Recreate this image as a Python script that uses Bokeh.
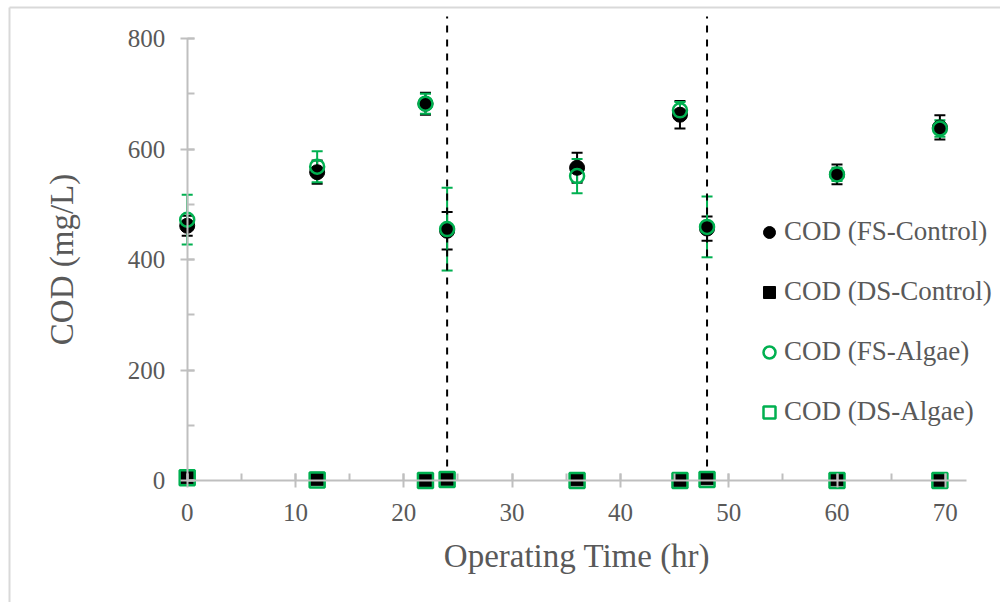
from bokeh.plotting import figure
from bokeh.models import (Range1d, SingleIntervalTicker, ColumnDataSource, Whisker,
                          TeeHead)
from bokeh.embed import file_html
from bokeh.resources import INLINE

# ---- data ----
time_hr = [0, 12, 22, 24, 36, 45.5, 48, 60, 69.5]
cod_fs_control = [461, 558, 682, 452, 566, 662, 456, 554, 639]
err_fs_control = [18, 21, 20, 34, 27, 25, 22, 18, 22]
cod_fs_algae = [472, 568, 682, 455, 551, 670, 459, 554, 637]
err_fs_algae = [45, 28, 18, 75, 31, 15, 55, 12, 15]
cod_ds_control = [6, 3, 1, 3, 2, 1, 4, 2, 1]
cod_ds_algae = [5, 1, 0, 2, 0, 0, 2, 0, 0]
divider_times = [24, 48]
divider_top = 840
y_ticks_max = 800
x_axis_max = 72

GREEN = "#00B050"
GREY_TXT = "#595959"
AXIS_C = "#BFBFBF"
FONT = "Liberation Serif"

W, H = 1000, 602
# pixel mapping of the plot area
x0_px, px_per_x = 186.7, 10.83
y0_px, px_per_y = 480.0, 442.0 / 800.0

def px_to_x(px):
    return (px - x0_px) / px_per_x

def px_to_y(py):
    return (y0_px - py) / px_per_y

p = figure(width=W, height=H, output_backend="svg", toolbar_location=None,
           x_range=Range1d(px_to_x(0), px_to_x(W)),
           y_range=Range1d(px_to_y(H), px_to_y(0)),
           min_border=0, min_border_left=0, min_border_right=0,
           min_border_top=0, min_border_bottom=0)
p.outline_line_color = None
p.xgrid.visible = False
p.ygrid.visible = False
p.background_fill_color = "white"
p.border_fill_color = "white"

# chart-area border (light grey, only top/left visible in the window)
bx0, by0 = px_to_x(9), px_to_y(7)
p.segment(x0=[bx0, bx0], y0=[by0, by0], x1=[px_to_x(W + 5), bx0],
          y1=[by0, px_to_y(H + 5)], line_color="#D9D9D9", line_width=2)

# axes
for ax in (p.xaxis[0], p.yaxis[0]):
    ax.fixed_location = 0
    ax.axis_line_color = AXIS_C
    ax.axis_line_width = 2
    ax.major_tick_line_color = AXIS_C
    ax.minor_tick_line_color = AXIS_C
    ax.major_tick_line_width = 2
    ax.minor_tick_line_width = 2
    ax.major_label_text_font = FONT
    ax.major_label_text_font_size = "25px"
    ax.major_label_text_color = GREY_TXT
    ax.axis_label_text_font = FONT
    ax.axis_label_text_font_size = "33px"
    ax.axis_label_text_color = GREY_TXT
    ax.axis_label_text_font_style = "normal"
    ax.major_tick_in = 7
    ax.major_tick_out = 7
    ax.minor_tick_in = 7
    ax.minor_tick_out = 0

p.xaxis.bounds = (0, x_axis_max)
p.yaxis.bounds = (0, y_ticks_max)
p.xaxis.ticker = SingleIntervalTicker(interval=10, num_minor_ticks=2)
p.yaxis.ticker = SingleIntervalTicker(interval=200, num_minor_ticks=2)
p.xaxis.axis_label = "Operating Time (hr)"
p.yaxis.axis_label = "COD (mg/L)"
p.xaxis.major_label_standoff = 16
p.yaxis.major_label_standoff = 15
p.xaxis.axis_label_standoff = 14
p.yaxis.axis_label_standoff = 45

src = ColumnDataSource(dict(
    t=time_hr,
    fsc=cod_fs_control, fsc_lo=[v - e for v, e in zip(cod_fs_control, err_fs_control)],
    fsc_hi=[v + e for v, e in zip(cod_fs_control, err_fs_control)],
    fsa=cod_fs_algae, fsa_lo=[v - e for v, e in zip(cod_fs_algae, err_fs_algae)],
    fsa_hi=[v + e for v, e in zip(cod_fs_algae, err_fs_algae)],
    dsc=cod_ds_control, dsa=cod_ds_algae,
))

# phase dividers
p.segment(x0=divider_times, y0=[0] * len(divider_times), x1=divider_times,
          y1=[divider_top] * len(divider_times), line_color="black",
          line_width=2, line_dash="7 7")

# error bars
for lo, hi, col in (("fsc_lo", "fsc_hi", "black"), ("fsa_lo", "fsa_hi", GREEN)):
    w = Whisker(source=src, base="t", lower=lo, upper=hi, dimension="height",
                line_color=col, line_width=2,
                upper_head=TeeHead(size=11, line_color=col, line_width=2),
                lower_head=TeeHead(size=11, line_color=col, line_width=2),
                level="underlay")
    p.add_layout(w)

r1 = p.scatter("t", "fsc", source=src, marker="circle", size=15,
               fill_color="black", line_color="black",
               legend_label="COD (FS-Control)")
r2 = p.scatter("t", "dsc", source=src, marker="square", size=13,
               fill_color="black", line_color="black",
               legend_label="COD (DS-Control)")
r3 = p.scatter("t", "fsa", source=src, marker="circle", size=14,
               fill_color=None, line_color=GREEN, line_width=2.5,
               legend_label="COD (FS-Algae)")
r4 = p.scatter("t", "dsa", source=src, marker="square", size=15,
               fill_color=None, line_color=GREEN, line_width=2.5,
               legend_label="COD (DS-Algae)")

lg = p.legend[0]
lg.location = (754, 175)
lg.padding = 0
lg.margin = 0
lg.spacing = 29
lg.glyph_width = 30
lg.glyph_height = 30
lg.label_height = 30
lg.label_standoff = 0
lg.label_text_font = FONT
lg.label_text_font_size = "27px"
lg.label_text_color = GREY_TXT
lg.border_line_alpha = 0
lg.background_fill_alpha = 0

open("out.html", "w").write(file_html(p, INLINE))
